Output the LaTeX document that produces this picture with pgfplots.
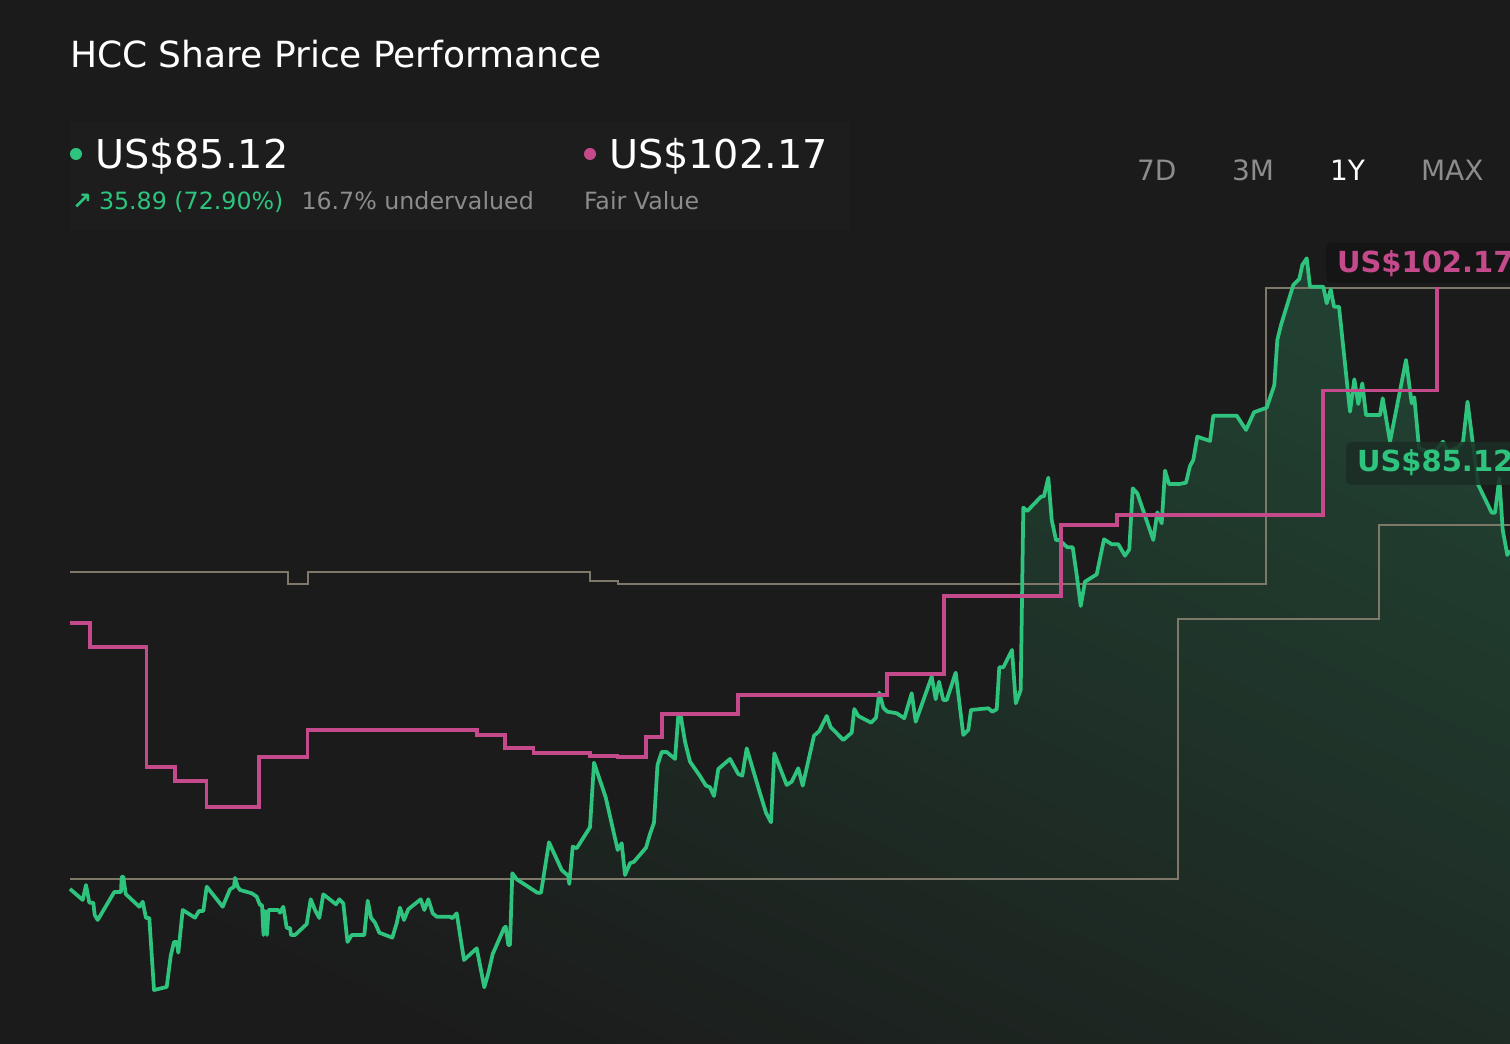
\documentclass[border=0pt]{standalone}
\usepackage{pgfplots}
\pgfplotsset{compat=1.18}
\usepackage{pgfplotstable}
\usepackage{fontspec}
\setmainfont{DejaVu Sans}
\definecolor{bg}{RGB}{27,27,27}
\definecolor{panel}{RGB}{28,29,28}
\definecolor{pgreen}{RGB}{46,196,126}
\definecolor{fvmag}{RGB}{196,74,140}
\definecolor{band}{RGB}{125,120,104}
\definecolor{txtgrey}{RGB}{140,140,140}
\definecolor{filltop}{RGB}{33,64,49}
\definecolor{fillbot}{RGB}{27,27,27}
\definecolor{lblmag}{RGB}{22,21,22}
\definecolor{lblgreen}{RGB}{27,46,37}

% share price (x = position along the 1Y window, p = price in US$)
\pgfplotstableread{
x p
70 49.13
82.7 47.96
86 49.55
89.3 47.67
93.3 47.67
94.7 46.36
97.7 45.83
114.3 48.81
121 48.81
121.7 50.43
123.3 50.43
125.7 48.59
139.3 47.24
142.7 47.77
146 46.04
149.3 46.04
154 38.38
166.7 38.70
170.7 42.00
174 43.49
176.7 43.49
178.3 42.35
182.7 46.89
195 46.07
199 46.79
203.3 46.79
206.7 49.37
222.7 47.24
230 49.09
234 49.37
235 50.30
237.7 49.37
240 49.02
251.7 48.67
256.7 48.31
260 47.42
262 47.42
263.5 44.23
265 46.79
267 44.23
268.5 46.89
278.3 46.89
280 46.60
283.3 47.24
286.7 44.98
290 44.98
291 44.23
295 44.23
306.7 45.40
310.7 48.03
315 46.89
319.3 46.04
323.3 48.56
336 47.50
339.3 48.03
343.3 47.60
347.5 43.49
351.7 44.23
364.3 44.23
367.7 47.88
371 46.07
375 45.54
379.3 44.48
392.3 43.95
396.7 45.48
400 47.14
404 45.83
408.3 46.97
420.7 48.03
424.3 46.89
428.3 48.03
432.7 46.54
436.7 46.18
450 46.18
452.3 46.01
456.7 46.54
464 41.57
476.7 42.82
484.3 38.67
488.3 40.16
492.7 42.21
504 44.95
505.7 45.12
508.3 43.17
510 43.17
512.3 50.80
516.7 50.16
537.3 48.73
541 48.73
549 54.09
561.7 51.15
568.3 50.51
569.3 49.66
572.7 53.63
576.7 53.46
590 55.69
594 62.56
605.7 58.88
617.7 53.27
621.7 53.99
625 50.62
630 51.86
634 52.03
646 53.52
650 54.98
654 56.18
657.5 62.32
661.7 63.70
666.7 63.70
675 62.96
678.3 67.56
680.7 67.56
685 64.80
690 62.67
699.3 61.25
706 60.12
710 59.95
714 59.02
718.3 61.89
730 62.96
738.3 61.36
742.3 61.18
746.7 64.09
760 59.31
766 57.24
771 56.22
774.3 63.56
786.7 60.19
791.7 60.54
798.3 61.97
802.7 60.12
814 65.43
819.3 65.93
826.7 67.53
830.7 66.33
843.3 64.98
851.7 65.75
854.3 68.27
858.3 67.53
871 66.82
876 67.35
879.3 70.01
883.3 68.41
887.3 67.99
896.7 67.82
904.3 67.29
911.7 69.95
915.7 66.92
931.7 71.71
935.7 69.31
939 71.18
943.3 69.23
946.7 69.23
955.7 72.14
963.3 65.51
968.3 66.04
971 68.17
988.3 68.35
992.3 67.99
996.7 68.24
999.3 72.71
1003.3 72.71
1012 74.55
1015.8 68.88
1020.7 70.30
1023.3 89.69
1027.3 89.34
1041 90.86
1044 90.93
1048.3 92.88
1051.7 88.38
1056 86.25
1059.3 86.25
1067.3 85.48
1072.7 85.48
1076.7 82.53
1080.7 79.23
1085 81.82
1096.7 82.60
1104 86.33
1111.7 85.80
1118.3 85.80
1125 84.58
1129.3 85.26
1132.7 91.75
1137.3 91.22
1153.3 86.25
1157.3 89.20
1161.7 88.03
1165 93.63
1169 92.21
1179.3 92.21
1186 92.35
1190 94.13
1193.3 94.76
1197.3 97.24
1210 96.79
1213.3 99.48
1236.7 99.48
1246 97.96
1254 99.84
1266.7 100.33
1274.3 102.74
1277.3 107.53
1281 109.13
1293.3 113.38
1299.3 114.02
1302.3 115.51
1306.7 116.22
1310 113.20
1323.3 113.20
1326.7 111.43
1330.7 112.92
1334 111.07
1339 111.07
1350 99.90
1354.3 103.35
1358.3 100.72
1362.3 102.92
1366 99.55
1380 99.55
1382.7 101.33
1390 96.71
1406 105.40
1411.7 100.80
1414.3 101.43
1419 96.04
1428 95.62
1436 95.83
1443 96.71
1448 95.62
1458 96.15
1463 96.68
1467.5 100.97
1473 96.36
1478.3 92.10
1491.7 89.16
1495 89.16
1499.3 92.82
1502.7 87.32
1507.3 84.66
1510 85.12
}\price

% fair value (steps)
\pgfplotstableread{
x fv
70 77.39
89.9 74.84
146.5 62.14
174.8 60.65
206.6 57.88
259 63.14
307.6 66.04
477.1 65.48
505.1 64.16
533.4 63.56
590 63.27
617.6 63.14
646 65.26
661.7 67.74
738.3 69.76
886.7 72.00
944 80.30
1060.7 87.85
1117.3 88.91
1323.3 102.17
1436.7 113.20
}\fair

% upper band
\pgfplotstableread{
x v
70 82.82
287.7 81.57
307.6 82.82
590 81.89
617.6 81.57
1266 113.03
1510 113.03
}\bandhi

% lower band
\pgfplotstableread{
x v
70 50.19
1178.3 77.82
1379 87.85
1510 87.85
}\bandlo

\begin{document}
\begin{tikzpicture}
\clip (0,0) rectangle (1132.5pt,783pt);
\fill[bg] (0,0) rectangle (1132.5pt,783pt);
\begin{scope}[x=0.75pt,y=-0.75pt,shift={(0pt,783pt)}]
  \fill[panel] (70,122) rectangle (850,230);
\end{scope}
\begin{axis}[at={(0pt,0pt)},anchor=south west,
  width=1132.5pt,height=783pt,scale only axis,
  xmin=0,xmax=1510,ymin=32.636,ymax=143.7,
  hide axis]
\addplot[draw=none, top color=filltop, bottom color=fillbot, shading angle=-25]
  table[x=x,y=p]{\price} |- (axis cs:70,32.636) -- cycle;
\addplot[const plot, band, line width=1.5pt] table[x=x,y=v]{\bandhi};
\addplot[const plot, band, line width=1.5pt] table[x=x,y=v]{\bandlo};
\addplot[pgreen, line width=2.8pt, line join=round] table[x=x,y=p]{\price};
\addplot[const plot, fvmag, line width=2.8pt] table[x=x,y=fv]{\fair};
\end{axis}
\begin{scope}[x=0.75pt,y=-0.75pt,shift={(0pt,783pt)}]
  \tikzset{t/.style={anchor=base west, inner sep=0pt, outer sep=0pt}}
  \node[t, white] at (70,68) {\fontsize{27pt}{32pt}\selectfont HCC Share Price Performance};
  \fill[pgreen] (76,154) circle (6);
  \node[t, white] at (95,168.3) {\fontsize{29.8pt}{36pt}\selectfont US\$85.12};
  \node[t, pgreen] at (72,210) {\fontsize{17.8pt}{22pt}\selectfont\bfseries ↗};
  \node[t, pgreen] at (99,210) {\fontsize{17.8pt}{22pt}\selectfont 35.89 (72.90\%)};
  \node[t, txtgrey] at (301.5,210) {\fontsize{17.8pt}{22pt}\selectfont 16.7\% undervalued};
  \fill[fvmag] (590,154) circle (6);
  \node[t, white] at (609,168.3) {\fontsize{29.8pt}{36pt}\selectfont US\$102.17};
  \node[t, txtgrey] at (584,210) {\fontsize{17.8pt}{22pt}\selectfont Fair Value};
  \node[t, txtgrey] at (1137,181) {\fontsize{21pt}{26pt}\selectfont 7D};
  \node[t, txtgrey] at (1232,181) {\fontsize{21pt}{26pt}\selectfont 3M};
  \node[t, white] at (1330,181) {\fontsize{21pt}{26pt}\selectfont 1Y};
  \node[t, txtgrey] at (1421,181) {\fontsize{21pt}{26pt}\selectfont MAX};
  \fill[lblmag, opacity=0.92, rounded corners=4] (1326,243) rectangle (1540,283);
  \node[t, fvmag] at (1337,272.7) {\fontsize{21.75pt}{26pt}\selectfont\bfseries US\$102.17};
  \fill[lblgreen, opacity=0.88, rounded corners=4] (1346,442) rectangle (1540,485);
  \node[t, pgreen] at (1357,471.7) {\fontsize{21.75pt}{26pt}\selectfont\bfseries US\$85.12};
\end{scope}
\end{tikzpicture}
\end{document}
